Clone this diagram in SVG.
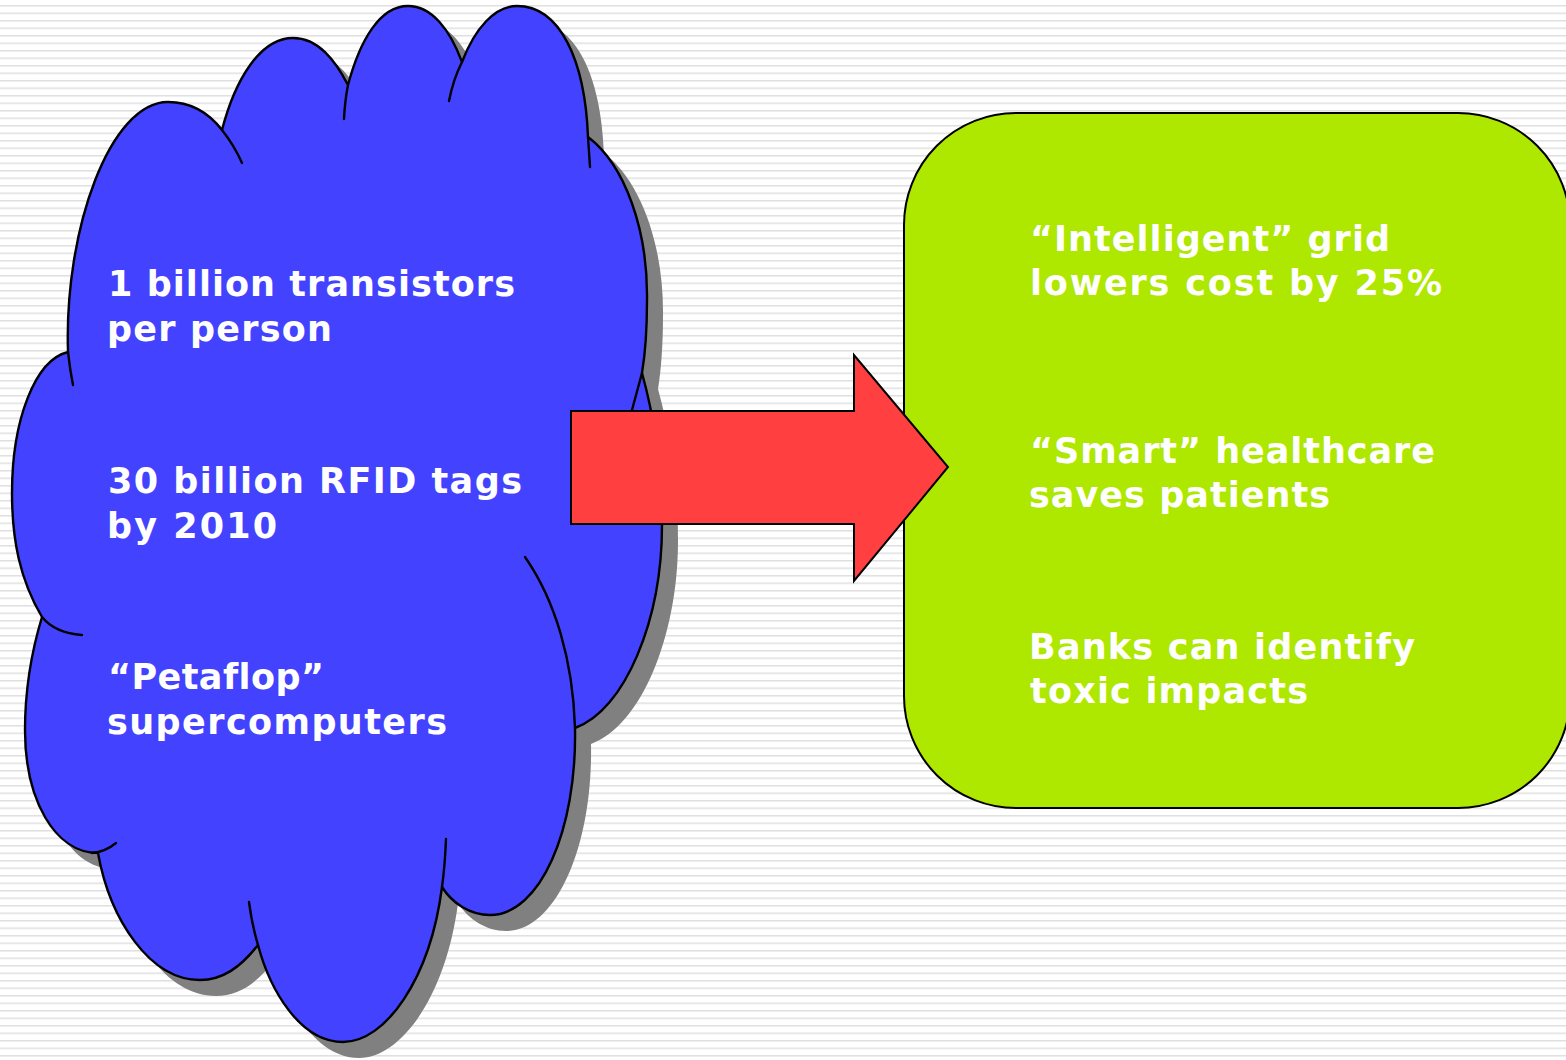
<svg xmlns="http://www.w3.org/2000/svg" width="1566" height="1060" viewBox="0 0 1566 1060">
  <style>
    .txt { font-family: "DejaVu Sans", Verdana, "Liberation Sans", sans-serif; font-weight: bold; font-size: 35px; fill: #ffffff; font-variant-ligatures: none; }
    .edge { fill: none; stroke: #000000; stroke-width: 2.4; stroke-linecap: round; stroke-linejoin: round; }
  </style>
  <defs>
    <pattern id="stripes" x="0" y="5" width="20" height="7.5" patternUnits="userSpaceOnUse">
      <rect x="0" y="0" width="20" height="1.5" fill="#e0e0e0"/>
    </pattern>
    <path id="cloudOutline" d="M68,352 C64,230 110,102 168,102 C190,102 208,112 222,130 C235,80 260,38 293,38 C318,38 335,60 348,85 C360,40 380,6 408,6 C432,6 450,30 462,62 C475,28 495,6 517,6 C560,6 585,60 588,137 C625,165 648,230 647,300 C647,330 645,355 642,373 C655,420 662,470 662,525 C662,620 625,710 575,728 C577,830 540,915 490,915 C470,915 452,903 442,887 C430,980 385,1042 343,1042 C300,1042 270,990 258,945 C240,968 222,980 200,980 C150,980 110,920 98,853 C55,853 25,800 25,730 C25,690 32,650 42,617 C20,580 12,540 12,493 C12,420 35,360 68,352 Z"/>
  </defs>

  <rect x="0" y="0" width="1566" height="1060" fill="#ffffff"/>
  <rect x="0" y="0" width="1566" height="1060" fill="url(#stripes)"/>

  <g id="cloud">
    <use href="#cloudOutline" transform="translate(16,16)" fill="#808080"/>
    <use href="#cloudOutline" fill="#4343FF" stroke="#000000" stroke-width="2.4" stroke-linejoin="round"/>
    <path class="edge" d="M222,130 Q234,145 242,163"/>
    <path class="edge" d="M344,119 Q345,100 348,85"/>
    <path class="edge" d="M449,101 Q453,80 462,62"/>
    <path class="edge" d="M588,137 L590,167"/>
    <path class="edge" d="M642,373 L632,410"/>
    <path class="edge" d="M525,557 C555,600 573,660 575,728"/>
    <path class="edge" d="M446,839 Q445,865 442,887"/>
    <path class="edge" d="M258,945 Q252,925 249,902"/>
    <path class="edge" d="M116,843 Q105,852 92,853"/>
    <path class="edge" d="M42,617 Q55,633 82,635"/>
    <path class="edge" d="M68,352 Q70,370 73,385"/>
    <text class="txt" x="108" y="296" textLength="407" lengthAdjust="spacing">1 billion transistors</text>
    <text class="txt" x="107" y="341" textLength="225" lengthAdjust="spacing">per person</text>
    <text class="txt" x="108" y="493" textLength="414" lengthAdjust="spacing">30 billion RFID tags</text>
    <text class="txt" x="107" y="538" textLength="170" lengthAdjust="spacing">by 2010</text>
    <text class="txt" x="108" y="689" textLength="216" lengthAdjust="spacing">“Petaflop”</text>
    <text class="txt" x="107" y="734" textLength="340" lengthAdjust="spacing">supercomputers</text>
  </g>

  <g id="outcomes">
    <rect x="904" y="113" width="666" height="695" rx="112" ry="112" fill="#AEE700" stroke="#000000" stroke-width="2"/>
    <text class="txt" x="1030" y="251" textLength="360" lengthAdjust="spacing">“Intelligent” grid</text>
    <text class="txt" x="1030" y="295" textLength="412" lengthAdjust="spacing">lowers cost by 25%</text>
    <text class="txt" x="1030" y="463" textLength="405" lengthAdjust="spacing">“Smart” healthcare</text>
    <text class="txt" x="1029" y="507" textLength="301" lengthAdjust="spacing">saves patients</text>
    <text class="txt" x="1029" y="659" textLength="386" lengthAdjust="spacing">Banks can identify</text>
    <text class="txt" x="1030" y="703" textLength="278" lengthAdjust="spacing">toxic impacts</text>
  </g>

  <g id="connectors">
    <path id="arrow" d="M571,411 L854,411 L854,355 L948,467 L854,581 L854,524 L571,524 Z" fill="#FF3F40" stroke="#000000" stroke-width="2" stroke-linejoin="miter"/>
  </g>
</svg>
